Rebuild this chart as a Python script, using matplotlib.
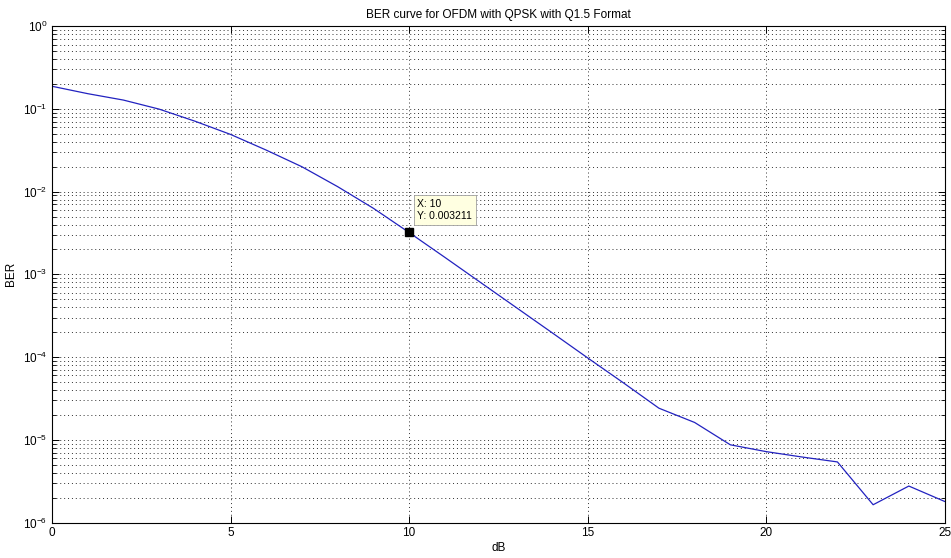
import matplotlib
matplotlib.use("Agg")
import matplotlib.pyplot as plt
import numpy as np

plt.rcParams['font.family'] = ['Liberation Sans', 'DejaVu Sans']

# values (SNR in dB, bit error rate)
snr_db = np.arange(0, 26)
ber = [0.188, 0.153, 0.128, 0.0995, 0.0712, 0.0492, 0.0318, 0.0200, 0.0115,
       0.0063, 0.003211, 1.61e-3, 8.0e-4, 3.98e-4, 1.98e-4, 9.8e-5, 4.9e-5,
       2.41e-5, 1.62e-5, 8.7e-6, 7.2e-6, 6.2e-6, 5.4e-6, 1.64e-6, 2.76e-6,
       1.8e-6]
tip_x = 10
tip_y = 0.003211

fig = plt.figure(figsize=(9.51, 5.58), dpi=100)
ax = fig.add_axes([0.0547, 0.0636, 0.9385, 0.8894])

ax.semilogy(snr_db, ber, color='#2222c0', lw=0.9)
ax.set_xlim(0, 25)
ax.set_ylim(1e-6, 1e0)
ax.set_xticks([0, 5, 10, 15, 20, 25])

'''MATLAB style grid and ticks'''
dots = (0, (1, 3))
ax.grid(True, which='major', axis='both', color='#303030', linestyle=dots, lw=0.7)
ax.grid(True, which='minor', axis='y', color='#303030', linestyle=dots, lw=0.7)
ax.tick_params(which='both', direction='in', top=True, right=True, labelsize=8.5)
ax.tick_params(which='major', length=5, width=0.7)
ax.tick_params(which='minor', length=3, width=0.6)
ax.yaxis.set_minor_formatter(matplotlib.ticker.NullFormatter())
for s in ax.spines.values():
    s.set_linewidth(0.8)

ax.set_title("BER curve for OFDM with QPSK with Q1.5 Format", fontsize=8.5, pad=6)
ax.set_xlabel("dB", fontsize=8.5, labelpad=2)
ax.set_ylabel("BER", fontsize=8.5, labelpad=4)

# data tip
ax.plot([tip_x], [tip_y], 's', color='k', ms=6)
ax.annotate("X: {0}\nY: {1}".format(tip_x, tip_y), xy=(tip_x, tip_y),
            xytext=(6, 8), textcoords='offset points', fontsize=7.5,
            ha='left', va='bottom', linespacing=1.3,
            bbox=dict(boxstyle='square,pad=0.35', fc='#ffffe1', ec='#a0a0a0', lw=0.6))

fig.savefig("out.png", dpi=100)
